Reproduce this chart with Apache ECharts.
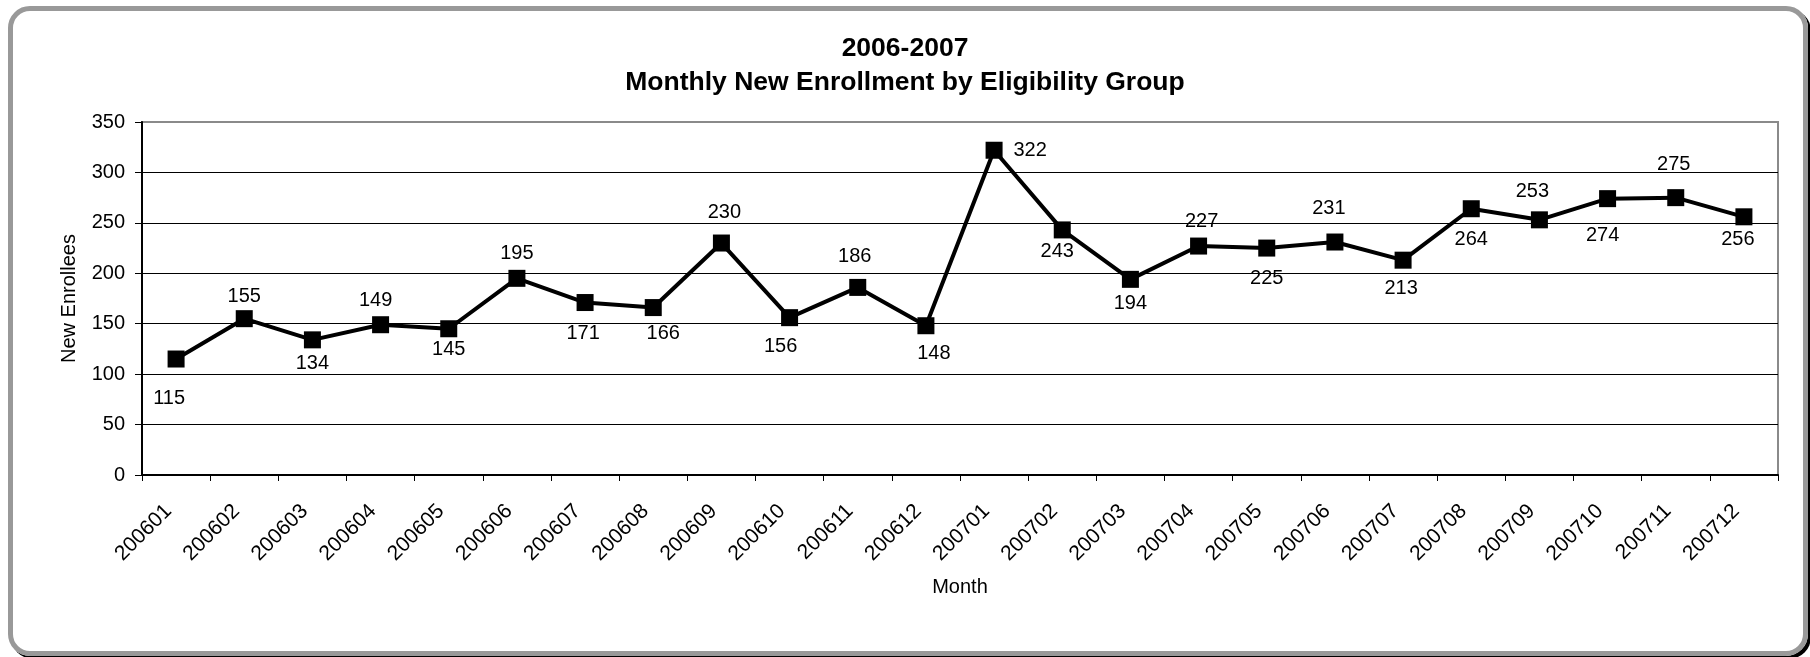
<!DOCTYPE html>
<html>
<head>
<meta charset="utf-8">
<script src="https://cdn.jsdelivr.net/npm/echarts@6/dist/echarts.min.js"></script>
<style>
  html, body { margin: 0; padding: 0; background: #fff; }
  #frame {
    position: absolute; left: 8px; top: 6px;
    width: 1790px; height: 640px;
    border: 5px solid #999; border-radius: 22px;
    box-shadow: 3px 3px 0 #000;
  }
  #chart { position: absolute; left: 0; top: 0; width: 1810px; height: 657px; }
</style>
</head>
<body>
<div id="frame"></div>
<div id="chart"></div>
<script>
// 月份
var months = ["200601","200602","200603","200604","200605","200606","200607","200608",
  "200609","200610","200611","200612","200701","200702","200703","200704",
  "200705","200706","200707","200708","200709","200710","200711","200712"];
// 每月新增人数
var enrollees = [115,155,134,149,145,195,171,166,230,156,186,148,
  322,243,194,227,225,231,213,264,253,274,275,256];
// 数据标签相对点的偏移 [dx, dy]
var labelShift = [[-7,39],[0,-22],[0,24],[-5,-24],[0,21],[0,-25],[-2,31],[10,26],
  [3,-31],[-9,29],[-3,-31],[8,28],[36,0],[-5,22],[0,24],[3,-25],
  [0,30],[-6,-34],[-2,28],[0,31],[-7,-28],[-5,37],[-2,-33],[-6,23]];

var font = "'Liberation Sans', Arial, sans-serif";
var myChart = echarts.init(document.getElementById("chart"), null, { renderer: "canvas" });

var seriesData = enrollees.map(function (v, i) {
  return { value: v, label: { position: "inside", offset: labelShift[i] } };
});

var option = {
  backgroundColor: "transparent",
  animation: false,
  textStyle: { fontFamily: font, color: "#000" },
  title: {
    text: "2006-2007\nMonthly New Enrollment by Eligibility Group",
    left: "center",
    top: 27,
    textStyle: { fontFamily: font, fontSize: 26.5, fontWeight: "bold", color: "#000", lineHeight: 34 }
  },
  grid: {
    left: 142, right: 32, top: 122, bottom: 182,
    show: true, borderColor: "#8a8a8a", borderWidth: 2, backgroundColor: "transparent"
  },
  xAxis: {
    type: "category",
    data: months,
    boundaryGap: true,
    name: "Month",
    nameLocation: "middle",
    nameGap: 102,
    nameTextStyle: { fontSize: 20, color: "#000" },
    axisLine: { lineStyle: { color: "#000", width: 2 } },
    axisTick: { show: true, length: 6, lineStyle: { color: "#000" } },
    axisLabel: { rotate: 45, fontSize: 21, color: "#000", margin: 25, padding: [0, 11, 0, 0], interval: 0 }
  },
  yAxis: {
    type: "value",
    min: 0, max: 350, interval: 50,
    name: "New Enrollees",
    nameLocation: "middle",
    nameGap: 63,
    nameRotate: 90,
    nameTextStyle: { fontSize: 20, color: "#000" },
    axisLine: { show: true, lineStyle: { color: "#000", width: 2 } },
    axisTick: { show: true, length: 7, lineStyle: { color: "#000" } },
    axisLabel: { fontSize: 20, color: "#000", margin: 17 },
    splitLine: { show: true, showMinLine: false, showMaxLine: false, lineStyle: { color: "#000", width: 1 } }
  },
  series: [
    {
      type: "line",
      data: seriesData,
      symbol: "rect",
      symbolSize: 17,
      lineStyle: { color: "#000", width: 4 },
      itemStyle: { color: "#000" },
      label: { show: true, fontSize: 20, color: "#000", fontFamily: font }
    }
  ]
};
myChart.setOption(option);
</script>
</body>
</html>
